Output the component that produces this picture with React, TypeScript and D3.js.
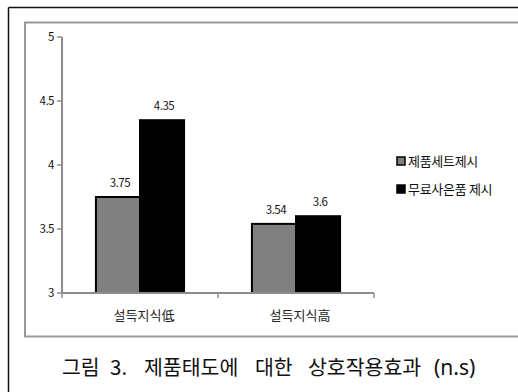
import React from "react";
import * as d3 from "d3";

const categories = ["설득지식低", "설득지식高"];
const seriesNames = ["제품세트제시", "무료사은품 제시"];
const productSet = [3.75, 3.54];
const freeGift = [4.35, 3.6];
const yTicks = [3, 3.5, 4, 4.5, 5];
const captionWords = ["그림", "3.", "제품태도에", "대한", "상호작용효과"];
const captionNote = "(n.s)";

const seriesColors = ["#808080", "#000000"];
const FONT = "'Noto Sans CJK KR', 'DejaVu Sans', sans-serif";
const LATIN = "'Noto Sans', 'DejaVu Sans', sans-serif";

export default function App() {
  const W = 518;
  const H = 392;
  const plot = { left: 62, right: 374, top: 37, bottom: 293 };

  const x = d3
    .scaleBand<string>()
    .domain(categories)
    .range([plot.left, plot.right]);
  const inner = d3
    .scaleBand<string>()
    .domain(seriesNames)
    .range([0, x.bandwidth()])
    .paddingInner(0)
    .paddingOuter(0.77);
  const y = d3.scaleLinear().domain([3, 5]).range([plot.bottom, plot.top]);

  const values = [productSet, freeGift];

  // caption layout: word start positions along the bottom line
  const wordX = [62, 110, 144, 255, 308];

  return (
    <svg
      width={W}
      height={H}
      style={{ position: "absolute", left: 0, top: 0, background: "#fff" }}
      fontFamily={FONT}
    >
      {/* outer frame */}
      <line x1={8.5} y1={7.5} x2={W} y2={7.5} stroke="#111" strokeWidth={1.5} />
      <line x1={8.5} y1={7.5} x2={8.5} y2={H} stroke="#111" strokeWidth={1.5} />
      {/* chart area frame */}
      <rect
        x={25}
        y={22.5}
        width={W}
        height={314}
        fill="none"
        stroke="#999"
        strokeWidth={2}
      />

      {/* y axis */}
      <line x1={plot.left} y1={plot.top} x2={plot.left} y2={plot.bottom} stroke="#8c8c8c" strokeWidth={2} />
      {yTicks.map((t) => (
        <g key={t}>
          <line x1={plot.left - 5} x2={plot.left} y1={y(t)} y2={y(t)} stroke="#8c8c8c" strokeWidth={1.5} />
          <text
            x={plot.left - 8}
            y={y(t)}
            dy="0.35em"
            textAnchor="end"
            fontSize={11.5}
            letterSpacing={-0.5}
            fill="#111"
          >
            {t}
          </text>
        </g>
      ))}

      {/* bars */}
      {categories.map((c, ci) =>
        seriesNames.map((s, si) => {
          const v = values[si][ci];
          const bx = (x(c) as number) + (inner(s) as number);
          const bw = inner.bandwidth();
          return (
            <g key={c + s}>
              <rect
                x={bx}
                y={y(v)}
                width={bw}
                height={y(3) - y(v)}
                fill={seriesColors[si]}
                stroke="#000"
                strokeWidth={2}
              />
              <text
                x={bx + bw / 2 + 2}
                y={y(v) - 10}
                textAnchor="middle"
                fontSize={11.5}
                letterSpacing={-0.5}
                fill="#111"
              >
                {v}
              </text>
            </g>
          );
        })
      )}

      {/* x axis */}
      <line x1={plot.left} y1={plot.bottom} x2={plot.right} y2={plot.bottom} stroke="#8c8c8c" strokeWidth={2} />
      {[plot.left, ...categories.map((c) => (x(c) as number) + x.bandwidth())].map((tx, i) => (
        <line key={i} x1={tx} x2={tx} y1={plot.bottom} y2={plot.bottom + 5} stroke="#8c8c8c" strokeWidth={1.5} />
      ))}
      {categories.map((c) => (
        <text
          key={c}
          x={(x(c) as number) + x.bandwidth() / 2 + 4}
          y={320}
          textAnchor="middle"
          fontSize={13}
          letterSpacing={0}
          fill="#222"
        >
          {c}
        </text>
      ))}

      {/* legend */}
      {seriesNames.map((s, i) => (
        <g key={s} transform={`translate(397, ${161 + i * 28})`}>
          <rect x={0} y={-4} width={8} height={8} fill={seriesColors[i]} stroke="#000" strokeWidth={1.5} />
          <text x={11} y={0} dy="0.35em" fontSize={13} letterSpacing={-0.3} fill="#111">
            {s}
          </text>
        </g>
      ))}

      {/* caption */}
      {captionWords.map((w, i) => (
        <text key={w} x={wordX[i]} y={375} fontSize={20.5} fill="#111">
          {w}
        </text>
      ))}
      <text x={434} y={375} fontSize={21} fill="#111" fontFamily={LATIN}>
        {captionNote}
      </text>
    </svg>
  );
}
